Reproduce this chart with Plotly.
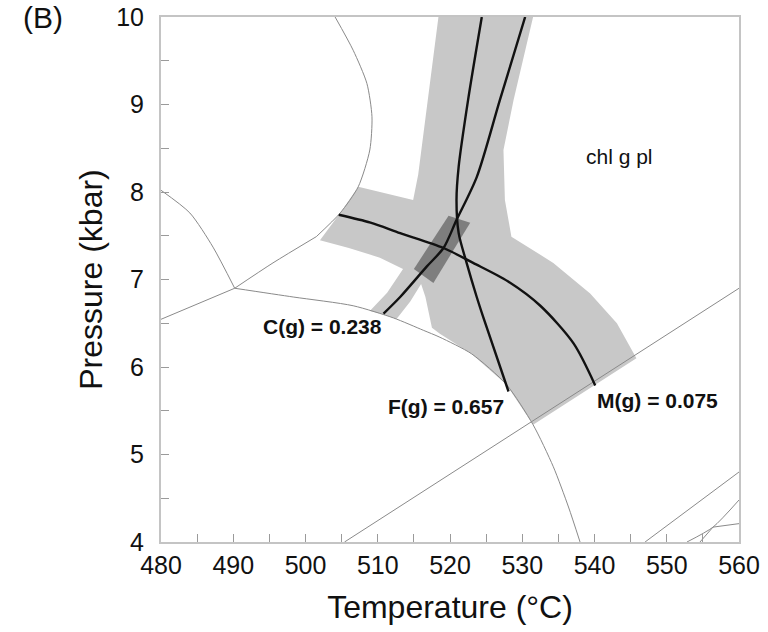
import plotly.graph_objects as go

# ---------------- data (T in °C, P in kbar) ----------------
# light-grey uncertainty band (union of the isopleth bands)
band_T = [518.4, 517.2, 516.3, 515.6, 514.9, 511.0, 507.3, 504.8, 502.0, 506.0, 510.3, 513.5,
          511.3, 508.9, 510.8, 512.6, 514.5, 516.0, 516.6, 517.5, 518.6, 523.0, 527.8, 531.5,
          545.8, 543.1, 539.4, 534.3, 531.4, 528.5, 527.6, 527.4, 528.8, 531.5]
band_P = [10.0, 9.24, 8.67, 8.2, 7.91, 7.99, 8.06, 7.76, 7.45, 7.36, 7.25, 7.12,
          6.85, 6.64, 6.60, 6.55, 6.75, 6.95, 6.80, 6.45, 6.38, 6.15, 5.80, 5.34,
          6.10, 6.50, 6.84, 7.19, 7.34, 7.49, 7.91, 8.48, 9.05, 10.0]

# dark-grey intersection box
box_T = [519.8, 522.8, 517.7, 515.0]
box_P = [7.73, 7.65, 6.96, 7.12]

# isopleths
C_T = [510.8, 513.1, 516.8, 519.1, 520.9, 523.7, 526.9, 530.4]
C_P = [6.61, 6.80, 7.15, 7.36, 7.68, 8.17, 9.05, 10.0]
F_T = [524.4, 522.5, 521.2, 520.9, 521.2, 522.3, 523.7, 524.6, 528.1]
F_P = [10.0, 9.05, 8.29, 7.91, 7.53, 7.19, 6.80, 6.57, 5.72]
M_T = [504.6, 509.0, 513.1, 519.1, 523.2, 528.0, 532.5, 537.1, 540.1]
M_P = [7.74, 7.65, 7.53, 7.36, 7.19, 6.98, 6.70, 6.27, 5.79]

# phase-field boundaries (thin grey lines)
bnd_lines = [
    ([504.1, 506.6, 508.5, 509.2, 508.9, 507.3, 504.8, 501.5],
     [10.0, 9.62, 9.24, 8.86, 8.48, 8.06, 7.76, 7.49]),
    ([501.5, 495.5, 490.2], [7.49, 7.19, 6.90]),
    ([490.2, 487.2, 484.0, 480.0], [6.90, 7.37, 7.76, 8.02]),
    ([490.2, 480.0], [6.90, 6.545]),
    ([490.2, 498.3, 506.6, 512.2, 516.3, 518.6, 523.0, 527.8, 531.5, 534.3, 536.4, 538.0],
     [6.90, 6.80, 6.70, 6.56, 6.42, 6.34, 6.15, 5.80, 5.34, 4.86, 4.40, 4.0]),
    ([505.4, 560.0], [4.0, 6.90]),
    ([547.0, 560.0], [4.0, 4.80]),
    ([552.8, 556.4, 560.0], [4.0, 4.17, 4.48]),
    ([556.4, 560.0], [4.17, 4.21]),
    ([554.6, 556.4], [4.0, 4.17]),
]

labels = ["C(g) = 0.238", "F(g) = 0.657", "M(g) = 0.075"]
label_T = [502.3, 519.5, 548.7]
label_P = [6.46, 5.55, 5.62]
field_label = "chl g pl"
field_T, field_P = 543.5, 8.41

x_ticks = [480, 490, 500, 510, 520, 530, 540, 550, 560]
y_ticks = [4, 5, 6, 7, 8, 9, 10]

FONT = "Liberation Sans, Arial, sans-serif"

fig = go.Figure()
fig.add_trace(go.Scatter(x=band_T, y=band_P, fill="toself", mode="lines",
                         line=dict(width=0), fillcolor="#c8c8c8", hoverinfo="skip"))
fig.add_trace(go.Scatter(x=box_T, y=box_P, fill="toself", mode="lines",
                         line=dict(width=0), fillcolor="#7e7e7e", hoverinfo="skip"))
for xs, ys in bnd_lines:
    fig.add_trace(go.Scatter(x=xs, y=ys, mode="lines",
                             line=dict(color="#8a8a8a", width=1, shape="spline", smoothing=0.7),
                             hoverinfo="skip"))
for xs, ys in [(C_T, C_P), (F_T, F_P), (M_T, M_P)]:
    fig.add_trace(go.Scatter(x=xs, y=ys, mode="lines",
                             line=dict(color="#111111", width=2.4, shape="spline", smoothing=0.8),
                             hoverinfo="skip"))

for txt, tx, ty in zip(labels, label_T, label_P):
    fig.add_annotation(x=tx, y=ty, text="<b>" + txt + "</b>", showarrow=False,
                       font=dict(family=FONT, size=21, color="#111111"))
fig.add_annotation(x=field_T, y=field_P, text=field_label, showarrow=False,
                   font=dict(family=FONT, size=21, color="#111111"))
fig.add_annotation(xref="paper", yref="paper", x=-0.205, y=1.0, xanchor="center", yanchor="middle",
                   text="(B)", showarrow=False,
                   font=dict(family=FONT, size=30, color="#111111"))

axis_common = dict(showgrid=False, zeroline=False, showline=True, linecolor="#c4c4c4",
                   linewidth=2, mirror=True, ticks="inside", ticklen=8, tickcolor="#9a9a9a",
                   tickwidth=1, tickfont=dict(family=FONT, size=25, color="#111111"))
fig.update_xaxes(range=[480, 560], tickvals=x_ticks, ticktext=[str(v) for v in x_ticks],
                 minor=dict(ticks="inside", ticklen=8, dtick=5, tickcolor="#9a9a9a"),
                 title=dict(text="Temperature (°C)", font=dict(family=FONT, size=32, color="#111111"),
                            standoff=18),
                 **axis_common)
fig.update_yaxes(range=[4, 10], tickvals=y_ticks, ticktext=[str(v) for v in y_ticks],
                 minor=dict(ticks="inside", ticklen=8, dtick=0.5, tickcolor="#9a9a9a"),
                 ticklabelstandoff=10,
                 title=dict(text="Pressure (kbar)", font=dict(family=FONT, size=32, color="#111111"),
                            standoff=4),
                 **axis_common)
fig.update_layout(width=768, height=632, showlegend=False, plot_bgcolor="white",
                  paper_bgcolor="white", margin=dict(l=161, r=29, t=17, b=90, autoexpand=False))
fig.write_html("out.html")
